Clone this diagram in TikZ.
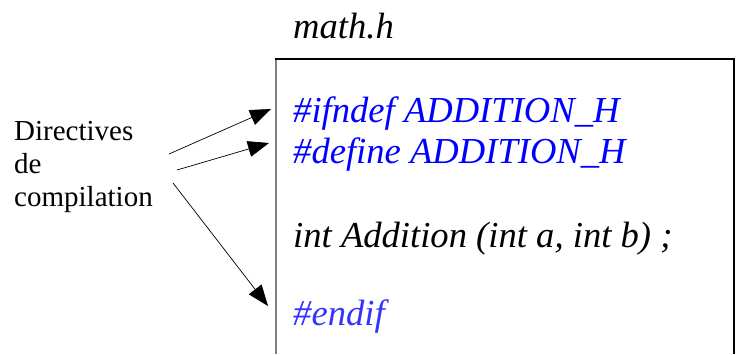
\documentclass[tikz,border=0pt]{standalone}
\usepackage{fontspec}
\setmainfont{Liberation Serif}
\usetikzlibrary{arrows.meta, positioning}
\definecolor{bleu}{RGB}{0,0,255}
\definecolor{bleuclair}{RGB}{51,51,255}

\begin{document}
\begin{tikzpicture}[x=1pt, y=-1pt,
        code/.style={anchor=base west, inner sep=0pt, font=\fontsize{36.6}{41}\selectfont\itshape},
        fleche/.style={-{Triangle[length=21pt, width=16pt]}, line width=0.7pt}]
            \useasboundingbox (0,0) rectangle (738,354);

            % fichier et son contenu
            \node[code] (titre) at (293,38) {math.h};
            \draw[gray, line width=1.6pt] (276,354) -- (276,59);
            \draw[line width=1.2pt] (275,59) -- (734,59) -- (734,354);
            \node[code, text=bleu] (ifn) at (293,122) {\#ifndef ADDITION\_H};
            \node[code, text=bleu] (def) at (293,163) {\#define ADDITION\_H};
            \node[code] (proto) at (293,247) {int Addition (int a, int b) ;};
            \node[code, text=bleuclair] (fin) at (293,325) {\#endif};

            % legende a gauche
            \node[anchor=north west, inner sep=0pt, align=left, font=\fontsize{29}{33}\selectfont] (dir) at (14,121) {Directives\\de\\compilation};

            \coordinate (d1) at (169,154);
            \coordinate (d2) at (177,170);
            \coordinate (d3) at (173,183);
            \coordinate (f1) at (271,109);
            \coordinate (f2) at (269,143);
            \coordinate (f3) at (268,306);

            \foreach \i in {1,2,3} {
                \draw[fleche] (d\i) -- (f\i);
            }
        \end{tikzpicture}
\end{document}
